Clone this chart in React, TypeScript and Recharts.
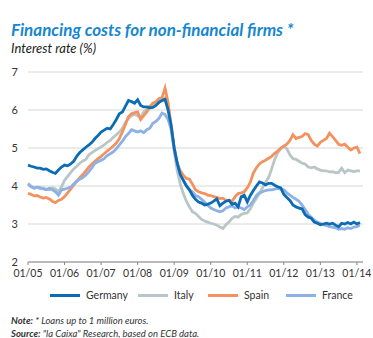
import { LineChart, Line, XAxis, YAxis, CartesianGrid } from "recharts";

// monthly rates, Jan 2005 .. Feb 2014
const tickLabels = ["01/05", "01/06", "01/07", "01/08", "01/09", "01/10", "01/11", "01/12", "01/13", "01/14"];

const germany = [
  4.55, 4.52, 4.5, 4.47, 4.47, 4.44, 4.45, 4.4, 4.36, 4.33, 4.42, 4.5,
  4.55, 4.53, 4.58, 4.65, 4.78, 4.88, 4.95, 5.02, 5.08, 5.15, 5.25, 5.33,
  5.42, 5.47, 5.52, 5.5, 5.62, 5.75, 5.9, 5.95, 6.1, 6.25, 6.22, 6.18,
  6.27, 6.12, 6.08, 6.08, 6.06, 6.07, 6.12, 6.2, 6.25, 6.28, 6.0, 5.6,
  5.0, 4.6, 4.3, 4.15, 4.0, 3.9, 3.75, 3.65, 3.58, 3.55, 3.5, 3.52,
  3.55, 3.6, 3.66, 3.48, 3.55, 3.6, 3.62, 3.52, 3.55, 3.45, 3.72, 3.76,
  3.58, 3.75, 3.88, 4.0, 4.11, 4.08, 4.03, 4.07, 4.07, 4.02, 3.98, 3.95,
  3.78, 3.7, 3.62, 3.5, 3.45, 3.42, 3.4, 3.25, 3.18, 3.15, 3.05, 3.02,
  2.98, 3.0, 3.02, 3.0, 3.02, 2.97, 2.93, 3.02, 3.0, 3.04, 3.0, 3.05,
  3.0, 3.04,
];

const italy = [
  4.07, 4.0, 3.95, 3.97, 3.92, 3.95, 3.92, 3.9, 3.95, 3.92, 3.85, 3.98,
  4.15, 4.25, 4.35, 4.45, 4.52, 4.6, 4.66, 4.7, 4.82, 4.88, 4.93, 4.98,
  5.03, 5.08, 5.15, 5.2, 5.28, 5.35, 5.42, 5.52, 5.68, 5.78, 5.85, 5.88,
  5.85, 5.8, 5.95, 6.02, 6.1, 6.15, 6.2, 6.22, 6.25, 6.32, 6.05, 5.5,
  4.9, 4.4, 4.05, 3.8, 3.6, 3.45, 3.32, 3.28, 3.2, 3.12, 3.08, 3.05,
  3.02, 3.0, 2.97, 2.92, 2.88, 2.98, 3.05, 3.15, 3.2, 3.18, 3.25, 3.28,
  3.29, 3.4, 3.55, 3.68, 3.8, 3.95, 4.1, 4.22, 4.45, 4.7, 4.88, 4.98,
  5.05, 4.98, 4.82, 4.72, 4.7, 4.65, 4.6, 4.58, 4.5, 4.48, 4.5, 4.45,
  4.42, 4.4, 4.4, 4.37, 4.38, 4.35, 4.36, 4.47, 4.35, 4.42, 4.4, 4.38,
  4.4, 4.4,
];

const spain = [
  3.81, 3.78, 3.74, 3.75, 3.71, 3.68, 3.7, 3.66, 3.6, 3.56, 3.62, 3.65,
  3.72, 3.82, 3.92, 4.02, 4.12, 4.22, 4.3, 4.4, 4.5, 4.58, 4.65, 4.72,
  4.78, 4.85, 4.92, 4.98, 5.05, 5.13, 5.25, 5.42, 5.62, 5.83, 5.9, 5.93,
  5.95, 5.75, 5.85, 5.95, 6.08, 6.18, 6.22, 6.3, 6.32, 6.58, 6.2, 5.6,
  5.0, 4.6, 4.4, 4.28, 4.2, 4.18, 4.05, 3.9, 3.85, 3.82, 3.8, 3.76,
  3.75, 3.72, 3.7, 3.67, 3.68, 3.62, 3.63, 3.6, 3.72, 3.8, 3.82, 3.85,
  3.95, 4.1, 4.34, 4.48, 4.58, 4.64, 4.68, 4.73, 4.78, 4.86, 4.92, 5.0,
  5.05, 5.1, 5.2, 5.35, 5.25, 5.28, 5.3, 5.38, 5.35, 5.2, 5.1, 5.05,
  5.15, 5.2, 5.25, 5.39, 5.3, 5.2, 5.1, 5.07, 5.1, 5.02, 4.95, 5.0,
  5.02, 4.85,
];

const france = [
  4.05, 3.98, 3.94, 3.97, 3.96, 3.92, 3.9, 3.94, 3.9, 3.85, 3.76, 3.9,
  3.92, 3.94, 3.97, 4.05, 4.12, 4.18, 4.22, 4.29, 4.38, 4.48, 4.6, 4.64,
  4.68, 4.72, 4.8, 4.85, 4.9, 4.98, 5.08, 5.18, 5.3, 5.38, 5.48, 5.45,
  5.42, 5.45, 5.4, 5.48, 5.52, 5.65, 5.7, 5.78, 5.92, 5.88, 5.75, 5.5,
  5.0, 4.6, 4.3, 4.15, 4.02, 3.9, 3.85, 3.75, 3.72, 3.65, 3.58, 3.5,
  3.42, 3.38, 3.35, 3.32, 3.35, 3.42, 3.45, 3.48, 3.42, 3.45, 3.42, 3.38,
  3.45, 3.5, 3.62, 3.75, 3.82, 3.85, 3.88, 3.9, 3.9, 3.92, 3.94, 3.92,
  3.9, 3.82, 3.76, 3.7, 3.65, 3.6, 3.5, 3.38, 3.26, 3.18, 3.1, 3.05,
  3.02, 2.98, 2.96, 2.93, 2.92, 2.9, 2.86, 2.88, 2.86, 2.9, 2.88, 2.92,
  2.93, 2.97,
];

const data = germany.map((g, i) => ({
  m: i,
  germany: g,
  italy: italy[i],
  spain: spain[i],
  france: france[i],
}));

const legend = [
  { key: "germany", name: "Germany", color: "#0b6cb5" },
  { key: "italy", name: "Italy", color: "#b9c6c7" },
  { key: "spain", name: "Spain", color: "#f3925f" },
  { key: "france", name: "France", color: "#8cb1e6" },
];

// draw order: grey first, dark blue last
const drawOrder = ["italy", "spain", "france", "germany"];

const font = "Lato, 'Open Sans', sans-serif";

export default function App() {
  return (
    <div style={{ position: "absolute", left: 0, top: 0, width: 373, height: 338, background: "#fff", fontFamily: font }}>
      <LineChart width={373} height={338} data={data} margin={{ top: 72, right: 10, bottom: 56, left: 8 }}>
        <CartesianGrid vertical={false} stroke="#d6d6d6" />
        <XAxis
          dataKey="m"
          type="number"
          domain={[0, 110]}
          ticks={[0, 12, 24, 36, 48, 60, 72, 84, 96, 108]}
          tickFormatter={(v) => tickLabels[v / 12]}
          height={20}
          tickSize={3}
          tickMargin={5}
          stroke="#8a8a8a"
          tick={{ fill: "#333", fontSize: 10.5, fontFamily: font }}
        />
        <YAxis
          domain={[2, 7]}
          ticks={[2, 3, 4, 5, 6, 7]}
          width={20}
          axisLine={false}
          tickLine={false}
          tickSize={0}
          tickMargin={10}
          tick={{ fill: "#333", fontSize: 11, fontFamily: font }}
        />
        {drawOrder.map((k) => {
          const s = legend.find((l) => l.key === k)!;
          return (
            <Line
              key={k}
              type="linear"
              dataKey={k}
              stroke={s.color}
              strokeWidth={2.8}
              dot={false}
              isAnimationActive={false}
            />
          );
        })}
      </LineChart>

      <div style={{ position: "absolute", left: 11, top: 19, fontSize: 17, fontWeight: 700, fontStyle: "italic", color: "#1687d0", whiteSpace: "nowrap" }}>
        Financing costs for non-financial firms *
      </div>
      <div style={{ position: "absolute", left: 11, top: 40, fontSize: 13, fontStyle: "italic", color: "#222", whiteSpace: "nowrap" }}>
        Interest rate (%)
      </div>

      {legend.map((s, i) => {
        const lx = [50, 138, 208, 286][i];
        return (
          <div key={s.key} style={{ position: "absolute", left: lx, top: 289, display: "flex", alignItems: "center", whiteSpace: "nowrap" }}>
            <div style={{ width: 30, height: 3, background: s.color, marginRight: 6 }} />
            <span style={{ fontSize: 10.5, color: "#333" }}>{s.name}</span>
          </div>
        );
      })}

      <div style={{ position: "absolute", left: 11, top: 315, fontSize: 9.5, fontStyle: "italic", color: "#333", whiteSpace: "nowrap" }}>
        <b>Note:</b> * Loans up to 1 million euros.
      </div>
      <div style={{ position: "absolute", left: 11, top: 328, fontSize: 9.5, fontStyle: "italic", color: "#333", whiteSpace: "nowrap" }}>
        <b>Source:</b> "la Caixa" Research, based on ECB data.
      </div>
    </div>
  );
}
